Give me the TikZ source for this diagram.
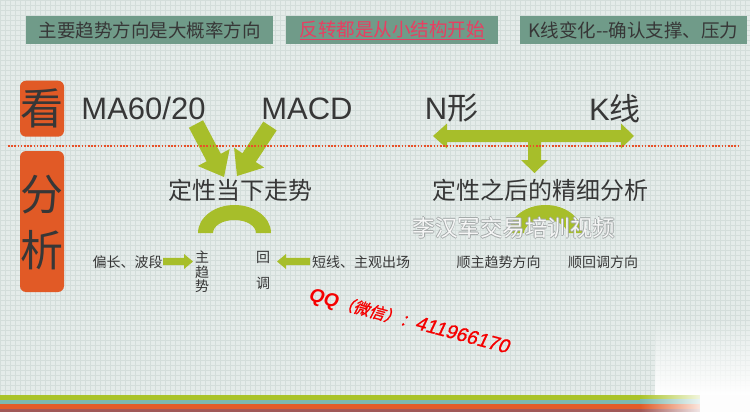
\documentclass[tikz,border=0pt]{standalone}
\usepackage{fontspec}
\setmainfont{Liberation Sans}
\newfontfamily\cjk{Noto Sans CJK SC}
\newfontfamily\cjkslant[FakeSlant=0.22,FakeBold=1.2]{Noto Sans CJK SC}
\newfontfamily\qqdig[FakeSlant=0.18,FakeBold=0.8]{Liberation Sans}
\usetikzlibrary{calc,fadings}
\definecolor{bg}{RGB}{228,235,233}
\definecolor{gridc}{RGB}{211,221,218}
\definecolor{boxg}{RGB}{112,155,137}
\definecolor{agreen}{RGB}{167,190,42}
\definecolor{aorange}{RGB}{225,90,38}
\definecolor{txt}{RGB}{55,55,55}
\definecolor{pinkt}{RGB}{232,62,98}
\definecolor{qqred}{RGB}{245,0,0}
\definecolor{stg}{RGB}{170,195,40}
\definecolor{stt}{RGB}{125,184,174}
\definecolor{sto}{RGB}{226,92,40}
\definecolor{stb}{RGB}{160,88,88}
\definecolor{dotc}{RGB}{232,80,40}
\definecolor{wmgray}{RGB}{165,170,170}
\newcommand\blkarrow[5]{%
  \coordinate (ba-h) at ($(#2)!#5!(#1)$);
  \fill[agreen] ($(#1)!#3!90:(#2)$) -- ($(ba-h)!#3!90:(#2)$) -- ($(ba-h)!#4!90:(#2)$) -- (#2)
    -- ($(ba-h)!#4!-90:(#2)$) -- ($(ba-h)!#3!-90:(#2)$) -- ($(#1)!#3!-90:(#2)$) -- cycle;}
\newcommand\fsz[1]{\fontsize{#1}{#1}\selectfont}
\begin{document}
\begin{tikzpicture}[x=1pt,y=-1pt,
  topbox/.style={fill=boxg, minimum height=28, inner sep=0, anchor=center},
  bigtxt/.style={text=txt, font=\fsz{31}, inner sep=0},
  cjkbig/.style={text=txt, font=\cjk\fsz{24}, inner sep=0},
  small/.style={text=txt, font=\cjk\fsz{14}, inner sep=0},
  tagbox/.style={fill=aorange, rounded corners=6pt, inner sep=0}]
\useasboundingbox (0,0) rectangle (750,412);
% background
\fill[bg] (0,0) rectangle (750,412);
\draw[gridc, line width=0.35pt, step=5pt] (0,412) grid (750,0);
% bottom stripes
\fill[stg] (0,395) rectangle (640,399.5);
\fill[stt] (0,399.5) rectangle (640,404);
\fill[sto] (0,404) rectangle (640,409);
\fill[stb] (0,409) rectangle (640,412);
\shade[left color=stg, right color=white!85!stg] (640,395) rectangle (700,399.5);
\shade[left color=stt, right color=white!85!stt] (640,399.5) rectangle (700,404);
\shade[left color=sto, right color=white!85!sto] (640,404) rectangle (700,409);
\shade[left color=stb, right color=white!85!stb] (640,409) rectangle (700,412);
\fill[white, path fading=north] (655,318) rectangle (750,395);
\fill[white!92!bg] (700,395) rectangle (750,412);
% top boxes
\node[topbox, minimum width=247] (b1) at (149.5,30) {\cjk\fsz{18.5}\color{txt}主要趋势方向是大概率方向};
\node[topbox, minimum width=212] (b2) at (392,30) {\cjk\fsz{18.5}\color{pinkt}\underline{反转都是从小结构开始}};
\node[topbox, minimum width=227] (b3) at (633.5,30.5) {\cjk\fsz{18.5}\color{txt}K线变化--确认支撑、压力};
% left tags
\node[tagbox, minimum width=44, minimum height=56] (kan) at (42,108.7) {};
\node[text=txt, font=\cjk\fsz{43}, inner sep=0] (kant) at (kan) {看};
\node[tagbox, minimum width=44, minimum height=141] (fx) at (42,221.5) {};
\node[text=txt, font=\cjk\fsz{43}, inner sep=0] (fen) at (42,194.5) {分};
\node[text=txt, font=\cjk\fsz{43}, inner sep=0] (xi) at (42,250.5) {析};
% headline texts
\node[bigtxt] (ma) at (143.5,108.5) {MA60/20};
\node[bigtxt] (macd) at (307,108.5) {MACD};
\node[bigtxt] (nx) at (451.5,108.5) {N{\cjk 形}};
\node[bigtxt] (kx) at (615,108.5) {K{\cjk 线}};
% converging arrows
\coordinate (la1) at (196,124); \coordinate (la2) at (224,177);
\coordinate (ra1) at (270,126); \coordinate (ra2) at (237,176);
\blkarrow{la1}{la2}{8pt}{18pt}{22pt}
\blkarrow{ra1}{ra2}{8pt}{18pt}{22pt}
% T arrow
\fill[agreen] (433,136) -- (447,123.5) -- (447,130) -- (621,130) -- (621,123.5) -- (634,136)
  -- (621,148.5) -- (621,142) -- (541,142) -- (541,160) -- (548,160) -- (534.5,173)
  -- (521,160) -- (528,160) -- (528,142) -- (447,142) -- (447,148.5) -- cycle;
% dotted separator
\coordinate (d1) at (8,146); \coordinate (d2) at (740,146);
\draw[dotc, line width=1.7pt, dash pattern=on 1.6pt off 1.6pt] (d1) -- (d2);
% sub-headlines
\node[cjkbig] (dx1) at (240,190) {定性当下走势};
\node[cjkbig] (dx2) at (540,190) {定性之后的精细分析};
% arches
\fill[agreen] (198,233) arc[start angle=180, end angle=360, x radius=36.5, y radius=28]
  -- (256,233) arc[start angle=0, end angle=-180, x radius=21.5, y radius=13] -- cycle;
\fill[agreen] (509,233) arc[start angle=180, end angle=360, x radius=36.5, y radius=28]
  -- (567,233) arc[start angle=0, end angle=-180, x radius=21.5, y radius=13] -- cycle;
% watermark
\foreach \dx/\dy in {-0.7/0,0.7/0,0/-0.7,0/0.7}
  \node[text=wmgray, font=\cjk\fsz{22.5}, inner sep=0] at (514+\dx,228+\dy) {李汉军交易培训视频};
\node[text=white, opacity=0.9, font=\cjk\fsz{22.5}, inner sep=0] (wm) at (514,228) {李汉军交易培训视频};
% bottom row
\node[small] (pc) at (127.5,262) {偏长、波段};
\node[small, align=center, font=\cjk\fontsize{14}{14.5}\selectfont] (zqs) at (202,272) {主\\趋\\势};
\node[small] (hui) at (263,257) {回};
\node[small] (tiao) at (263,283) {调};
\node[small] (dx) at (361,262) {短线、主观出场};
\node[small] (sz) at (498.5,262) {顺主趋势方向};
\node[small] (sh) at (603,262) {顺回调方向};
\coordinate (sa1) at (163,261.5); \coordinate (sa2) at (193,261.5);
\coordinate (sb1) at (310,261.5); \coordinate (sb2) at (277,261.5);
\blkarrow{sa1}{sa2}{3.6pt}{7.5pt}{9pt}
\blkarrow{sb1}{sb2}{3.6pt}{7.5pt}{9pt}
% QQ
\node[text=qqred, inner sep=0, rotate=-15] (qq) at (409,322)
  {{\bfseries\itshape\fsz{19}QQ}{\cjkslant\fsz{16}（微信）：}{\qqdig\fsz{19.5}411966170}};
\end{tikzpicture}
\end{document}
